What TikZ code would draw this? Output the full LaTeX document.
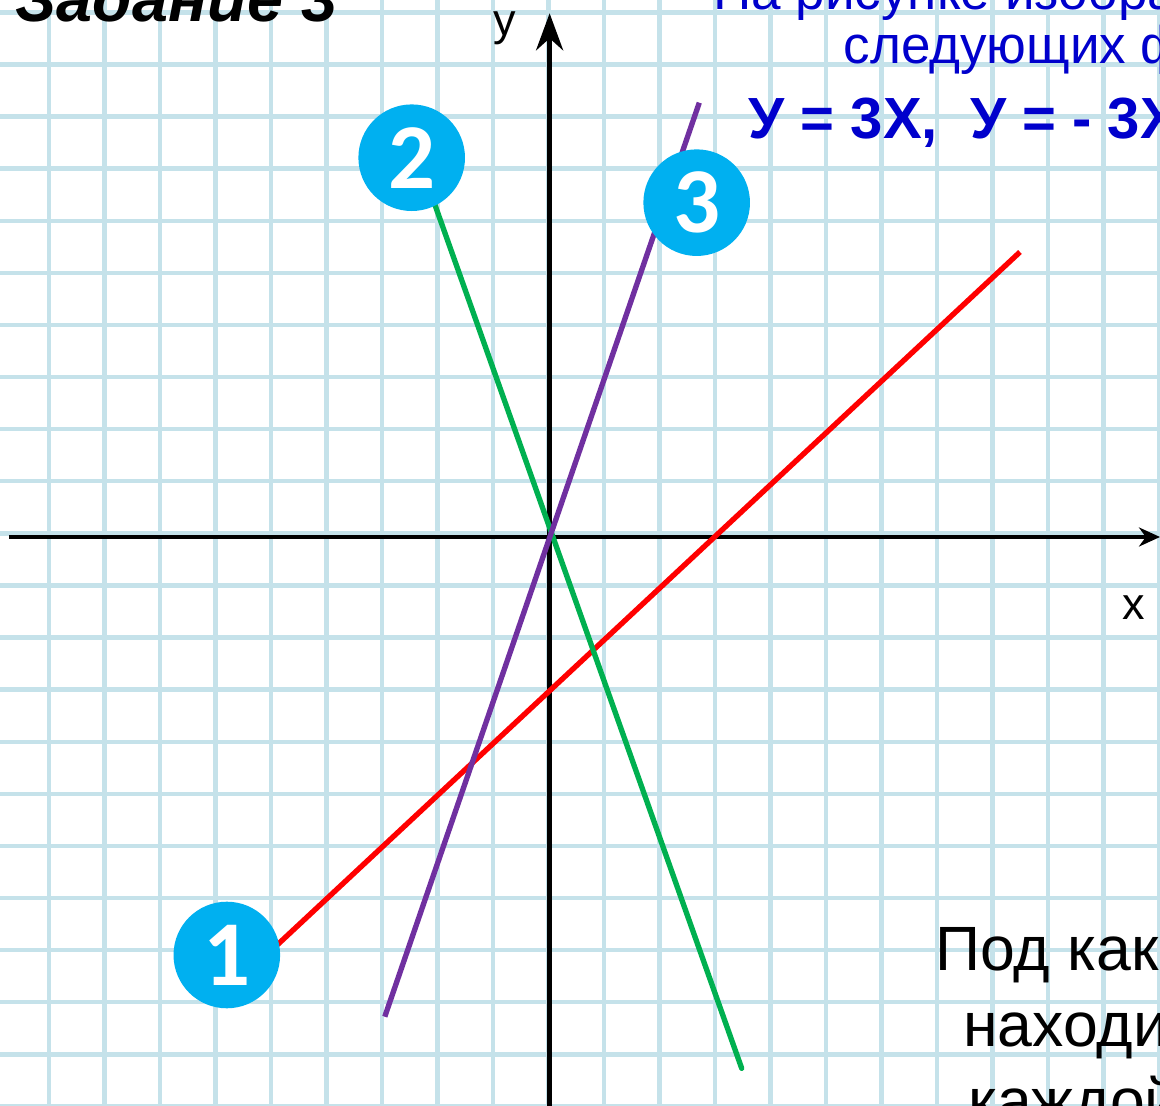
\documentclass[tikz,border=0pt]{standalone}
\usepackage{fontspec}
\setmainfont{Liberation Sans}
\newfontfamily\numfont{Carlito}
\usetikzlibrary{arrows.meta}
\definecolor{gridblue}{RGB}{197,226,234}
\definecolor{numcyan}{RGB}{0,176,240}
\definecolor{linegreen}{RGB}{0,176,80}
\definecolor{linepurple}{RGB}{112,48,160}
\definecolor{taskblue}{RGB}{0,0,204}
\begin{document}
\begin{tikzpicture}[x=1.3875cm,y=1.3025cm,
  gridline/.style={gridblue,line width=3.1pt},
  graphline/.style={line width=3.8pt},
  numdot/.style={circle,fill=numcyan,minimum size=2.665cm,inner sep=0pt,text=white,
    font=\numfont\bfseries\fontsize{66pt}{66pt}\selectfont},
  txt/.style={anchor=base west,inner sep=0pt}]
\clip (-9.883,-10.921) rectangle (11.018,10.307);
\fill[white] (-9.883,-10.921) rectangle (11.018,10.307);
% squared paper
\foreach \i in {-9,...,11}
  \draw[gridline] (\i,-11) -- (\i,10.4);
\foreach \j in {-11,...,10}
  \draw[gridline] (-10,\j+0.07) -- (11.1,\j+0.07);
% axes
\coordinate (xa) at (-9.717,0);
\coordinate (xb) at (11.018,0);
\coordinate (ya) at (0.02,-11);
\coordinate (yb) at (0.02,10.052);
\draw[line width=3pt,-{Stealth[length=0.525cm,width=0.475cm]}] (xa) -- (xb);
\draw[line width=3.7pt,-{Stealth[length=0.925cm,width=0.675cm]}] (ya) -- (yb);
\node[anchor=base,inner sep=0pt,font=\fontsize{32pt}{34pt}\selectfont] (ylab) at (-0.784,9.635) {y};
\node[anchor=base,inner sep=0pt,font=\fontsize{32pt}{34pt}\selectfont] (xlab) at (10.55,-1.593) {x};
% graphs
\coordinate (r0) at (-5.198,-8.138);
\coordinate (r1) at (8.495,5.470);
\coordinate (g0) at (-2.225,6.912);
\coordinate (g1) at (3.481,-10.198);
\coordinate (p0) at (-2.950,-9.207);
\coordinate (p1) at (2.717,8.336);
\draw[graphline,red] (r0) -- (r1);
\draw[graphline,linegreen,line cap=round] (g0) -- (g1);
\draw[graphline,linepurple] (p0) -- (p1);
% numbers
\node[numdot] (n1) at (-5.796,-8.023) {1};
\node[numdot] (n2) at (-2.465,7.280) {2};
\node[numdot] (n3) at (2.670,6.417) {3};
% texts
\node[txt,font=\bfseries\itshape\fontsize{46pt}{50pt}\selectfont] (title) at (-9.613,9.891) {Задание 3};
\node[txt,text=taskblue,font=\fontsize{37.7pt}{40pt}\selectfont] (task1) at (2.964,10.115) {На рисунке изображены графики};
\node[txt,text=taskblue,font=\fontsize{37.7pt}{40pt}\selectfont] (task2) at (5.312,9.079) {следующих функций:};
\node[txt,text=taskblue,font=\bfseries\fontsize{41.3pt}{44pt}\selectfont] (funcs) at (3.6,7.653) {У = 3Х,\ \ У = - 3Х};
\node[txt,font=\fontsize{44.5pt}{46pt}\selectfont] (ask1) at (6.964,-8.324) {Под каким};
\node[txt,font=\fontsize{44.5pt}{46pt}\selectfont] (ask2) at (7.468,-9.783) {находится};
\node[txt,font=\fontsize{44.5pt}{46pt}\selectfont] (ask3) at (7.559,-11.24) {каждой};
\end{tikzpicture}
\end{document}
